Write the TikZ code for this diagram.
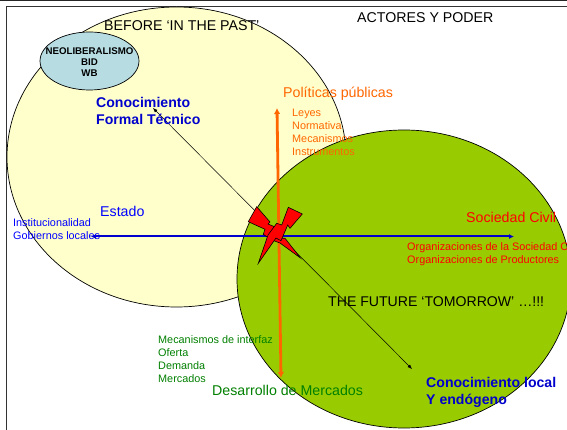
\documentclass[tikz,border=0pt]{standalone}
\usepackage{fontspec}
\setmainfont{Liberation Sans}
\usetikzlibrary{arrows.meta,shapes.geometric}
\definecolor{yel}{RGB}{255,255,204}
\definecolor{grn}{RGB}{153,204,0}
\definecolor{lblue}{RGB}{183,221,227}
\definecolor{org}{RGB}{255,102,0}
\definecolor{blu}{RGB}{0,0,204}
\definecolor{lblu}{RGB}{0,0,255}
\definecolor{dgrn}{RGB}{0,128,0}
\tikzset{x=1pt,y=-1pt,
 blob/.style={draw=black,line width=.7pt,ellipse,inner sep=0pt},
 lab/.style={inner sep=0pt,anchor=base west,align=left},
 big/.style={lab,font=\fontsize{14.2}{17}\selectfont},
 small/.style={lab,font=\fontsize{10.85}{13}\selectfont},
 bold/.style={lab,font=\fontsize{14.1}{17}\selectfont\bfseries,text=blu},
 bolt/.style={fill=red,draw=black,line width=.6pt,line join=miter},
 thinarrow/.style={line width=.5pt,{Latex[length=4.5pt,width=3.5pt]}-{Latex[length=4.5pt,width=3.5pt]}},
 bluearrow/.style={line width=2pt,draw=blu,{Latex[length=5pt,width=5pt]}-{Latex[length=5pt,width=5pt]}},
 orgarrow/.style={line width=2.8pt,draw=org,{Latex[length=6pt,width=6.5pt]}-{Latex[length=6pt,width=6.5pt]}}}
\begin{document}
\begin{tikzpicture}
\useasboundingbox (0,0) rectangle (567,430);
\clip (0,0) rectangle (567,430);
\fill[white] (0,0) rectangle (567,430);
\draw[line width=.9pt,black!85] (0,0.3) -- (567,0.3);
\draw[line width=.9pt,black!80] (567,6.5) -- (6.5,6.5) -- (6.5,430);
\node[blob,fill=yel,minimum width=339pt,minimum height=300pt] (past) at (176.5,157) {};
\node[blob,fill=grn,minimum width=334pt,minimum height=298pt] (future) at (404,279) {};
\node[blob,fill=lblue,minimum width=99pt,minimum height=58pt] (neo) at (89.5,61) {};
\node[inner sep=0pt,align=center,font=\fontsize{9.7}{11}\selectfont\bfseries] (neotext) at (89.5,62) {NEOLIBERALISMO\\BID\\WB};
\coordinate (kf) at (153,108);
\coordinate (kl) at (412,369);
\coordinate (bl) at (91,236.5);
\coordinate (br) at (514,236.5);
\coordinate (ot) at (277,108);
\coordinate (ob) at (281,378);
\draw[thinarrow] (kf) -- (kl);
\draw[bluearrow] (bl) -- (br);
\draw[orgarrow] (ot) -- (ob);
\draw[bolt] (256.7,206.7) -- (270,222) -- (268,224) -- (277.5,228) -- (276,238) -- (285,238.3) -- (300.5,258) -- (280,243) -- (272,240) -- (263.3,234.3) -- (265,229.3) -- (248.3,221.7) -- cycle;
\draw[bolt] (288.3,207.3) -- (302.3,214) -- (290,228.3) -- (287.7,225) -- (281,240.7) -- (276,238) -- (258.3,263.3) -- (268,235) -- (276.7,223.3) -- (281.7,225) -- cycle;
\node[big] (before) at (104,31) {BEFORE ‘IN THE PAST’};
\node[big] (actores) at (357,23) {ACTORES Y PODER};
\node[big,text=org] (pol) at (283,98) {Políticas públicas};
\node[small,text=org] (leyes) at (292,156) {Leyes\\Normativa\\Mecanismos\\Instrumentos};
\node[bold] (kformal) at (96,125) {Conocimiento\\Formal Técnico};
\node[big,text=lblu] (estado) at (100,217) {Estado};
\node[small,text=lblu] (inst) at (13,240) {Institucionalidad\\Gobiernos locales};
\node[big,text=red] (soc) at (466,223) {Sociedad Civil};
\node[small,text=red] (orgs) at (407,263) {Organizaciones de la Sociedad Civil\\Organizaciones de Productores};
\node[big,font=\fontsize{14.1}{17}\selectfont] (fut) at (328,306) {THE FUTURE ‘TOMORROW’ …!!!};
\node[small,text=dgrn] (meca) at (158,382) {Mecanismos de interfaz\\Oferta\\Demanda\\Mercados};
\node[big,text=dgrn] (des) at (212,395) {Desarrollo de Mercados};
\node[bold] (klocal) at (426,404) {Conocimiento local\\Y endógeno};
\end{tikzpicture}
\end{document}
